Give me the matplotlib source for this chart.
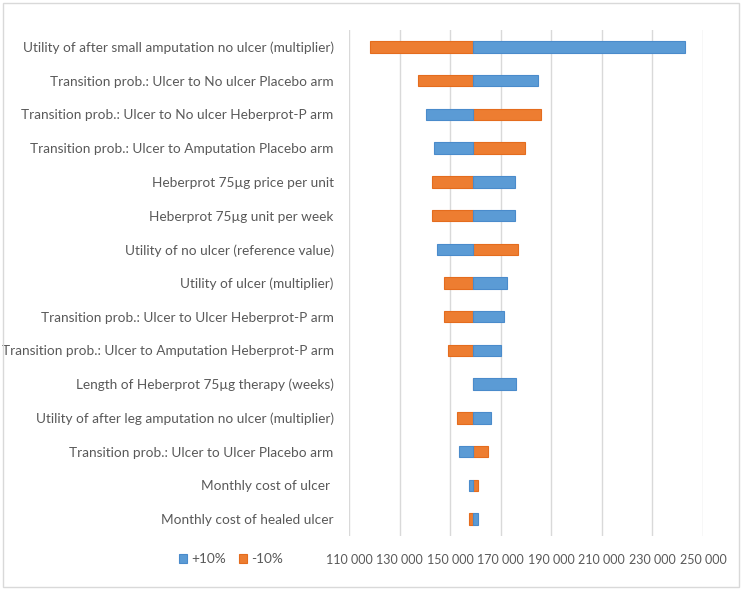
import numpy as np
import matplotlib
matplotlib.use("Agg")
import matplotlib.pyplot as plt
from matplotlib.patches import Rectangle
from matplotlib.ticker import FuncFormatter

# Parámetros (de arriba hacia abajo)
params = [
    "Utility of after small amputation no ulcer (multiplier)",
    "Transition prob.: Ulcer to No ulcer Placebo arm",
    "Transition prob.: Ulcer to No ulcer Heberprot-P arm",
    "Transition prob.: Ulcer to Amputation Placebo arm",
    "Heberprot 75\u00b5g price per unit",
    "Heberprot 75\u00b5g unit per week",
    "Utility of no ulcer (reference value)",
    "Utility of ulcer (multiplier)",
    "Transition prob.: Ulcer to Ulcer Heberprot-P arm",
    "Transition prob.: Ulcer to Amputation Heberprot-P arm",
    "Length of Heberprot 75\u00b5g therapy (weeks)",
    "Utility of after leg amputation no ulcer (multiplier)",
    "Transition prob.: Ulcer to Ulcer Placebo arm",
    "Monthly cost of ulcer ",
    "Monthly cost of healed ulcer",
]
base_value = 159100
plus_10 = [242800, 184800, 140400, 143600, 175600, 175600, 144700, 172500,
           171200, 170100, 176100, 166000, 153500, 157300, 160900]
minus_10 = [118300, 137300, 185900, 179800, 142700, 142700, 176800, 147700,
            147700, 149300, 159100, 152800, 165100, 160900, 157300]

blue = "#5B9BD5"
orange = "#ED7D31"
txt = "#595959"
grid = "#D9D9D9"

plt.rcParams['font.family'] = ['Lato', 'DejaVu Sans']

W, H = 743, 590
fig = plt.figure(figsize=(W / 100, H / 100), dpi=100)
ax = fig.add_axes([349 / W, (H - 536) / H, (703 - 349) / W, (536 - 30) / H])

y = np.arange(len(params))
plus = np.array(plus_10)
minus = np.array(minus_10)
ax.barh(y, minus - base_value, left=base_value, height=0.34, color=orange,
        edgecolor="#E46C1E", linewidth=0.8, label="-10%", zorder=3)
ax.barh(y, plus - base_value, left=base_value, height=0.34, color=blue,
        edgecolor="#4A8BCB", linewidth=0.8, label="+10%", zorder=3)

ax.set_ylim(len(params) - 0.5, -0.5)
ax.set_yticks(y)
ax.set_yticklabels(params)
ax.set_xlim(110000, 250000)
ax.set_xticks(np.arange(110000, 250001, 20000))
ax.xaxis.set_major_formatter(FuncFormatter(lambda v, p: f"{int(v):,}".replace(",", " ")))
ax.grid(axis="x", color=grid, linewidth=1.0, zorder=0)
for s in ax.spines.values():
    s.set_visible(False)
ax.tick_params(axis="both", length=0, colors=txt)
ax.tick_params(axis="y", pad=11, labelsize=9.8)
ax.tick_params(axis="x", pad=13, labelsize=9)

handles, labels = ax.get_legend_handles_labels()
fig.legend(handles[::-1], labels[::-1], loc="center", bbox_to_anchor=(231 / W, 1 - 559 / H),
           ncol=2, frameon=False, fontsize=9.8, labelcolor=txt,
           handlelength=0.6, handleheight=0.6, handletextpad=0.3, columnspacing=1.0)

fig.patches.append(Rectangle((3 / W, 3 / H), 736 / W, 584 / H, transform=fig.transFigure,
                             fill=False, edgecolor=grid, linewidth=1.0))

fig.savefig("out.png", dpi=100)
